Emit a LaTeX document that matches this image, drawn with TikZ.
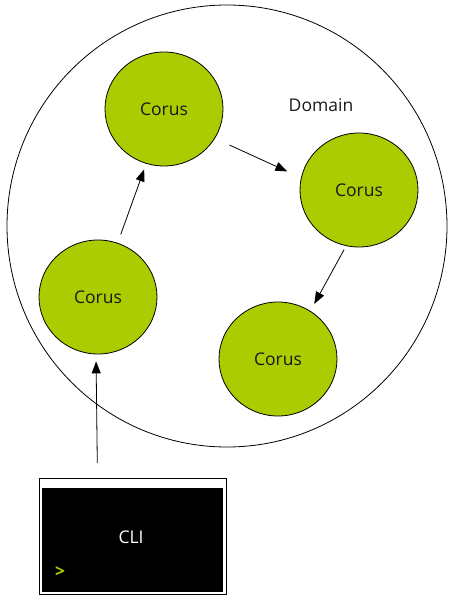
\documentclass[tikz,border=0pt]{standalone}
\usepackage{fontspec}
\setmainfont{Open Sans}
\usepackage{tikz}
\usetikzlibrary{shapes.geometric, arrows.meta}
\definecolor{corusclr}{rgb}{0.67, 0.80, 0.0}
\definecolor{txtclr}{rgb}{0.1, 0.1, 0.1}
\tikzset{ %
  ,>={Triangle[length=12pt, width=9pt]}
  ,every node/.style={font=\fontsize{17.5}{20}\selectfont, text=txtclr}
  ,ring/.style={draw, ellipse, line width=0.8pt, minimum width=440pt, minimum height=442pt}
  ,corus/.style={draw, ellipse, inner sep=0, line width=0.8pt, minimum width=118pt, minimum height=114pt, fill=corusclr}
  ,clibox/.style={draw, rectangle, line width=1pt, minimum width=187pt, minimum height=116pt, fill=white}
  ,screen/.style={rectangle, inner sep=0, minimum width=181pt, minimum height=104pt, fill=black}
  ,prompt/.style={inner sep=0, text=corusclr, font=\fontsize{17.5}{20}\selectfont\bfseries}
  ,link/.style={->, line width=0.8pt}
}
\begin{document}
\begin{tikzpicture}[x=1pt, y=-1pt]
      \useasboundingbox (0,0) rectangle (456,603);
      \draw
      node[ring] (D) at (227,226) {}
      node[inner sep=0] (DL) at (321,105) {Domain}
      node[corus] (A) at (164,109) {Corus}
      node[corus] (B) at (359,190) {Corus}
      node[corus] (C) at (98,297) {Corus}
      node[corus] (E) at (278,359) {Corus}
      node[clibox] (K) at (132.5,536) {}
      node[screen] (S) at (132.5,540) {}
      node[inner sep=0, text=white] (KL) at (131,537) {CLI}
      node[prompt] (P) at (60,572) {>};
      \coordinate (Ktop) at (97.3,463);
      \draw [link, shorten <=9pt, shorten >=6pt] (C.70) -- (A.-108);
      \draw [link, shorten <=16pt, shorten >=15pt] (A.-30) -- (B.168);
      \draw [link, shorten <=4pt, shorten >=8pt] (B.-103) -- (E.56);
      \draw [link, shorten >=7pt] (Ktop) -- (C.-92);
    \end{tikzpicture}
\end{document}
